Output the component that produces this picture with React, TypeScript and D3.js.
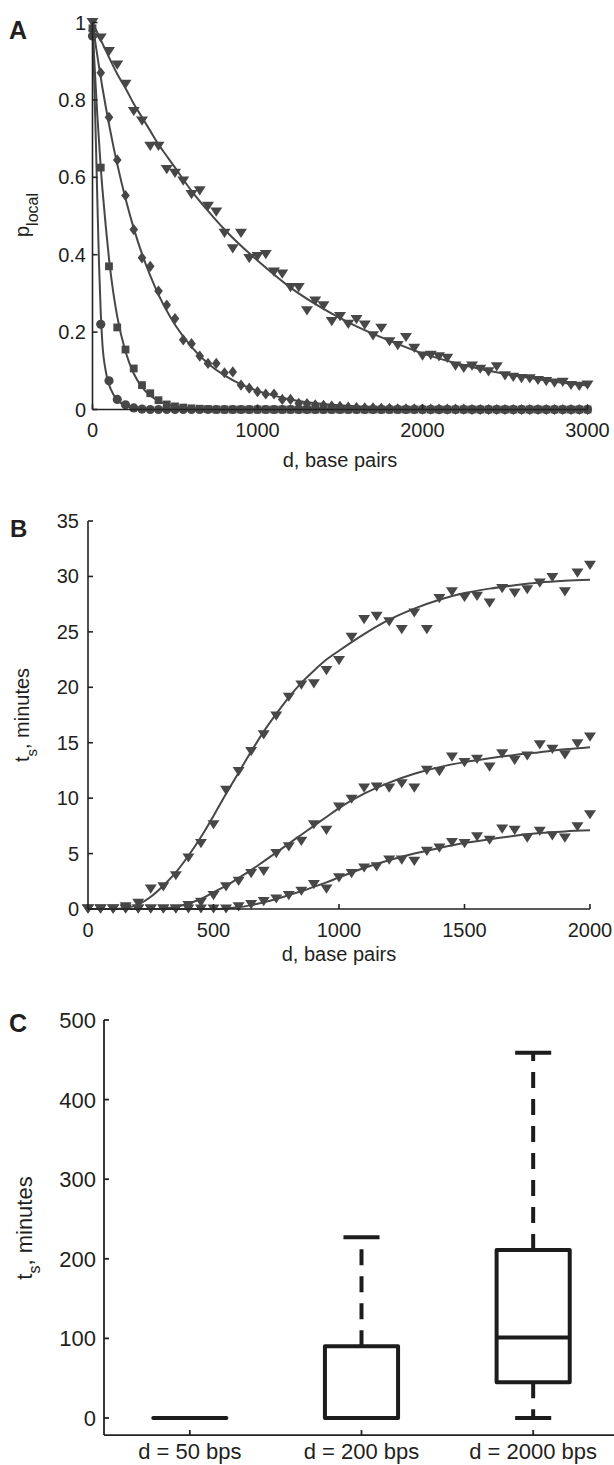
import React from 'react';
import * as d3 from 'd3';

// ---------- Panel A data ----------
const aDist = d3.range(0, 3001, 50);
const aTriangle = [1.0, 0.96, 0.925, 0.89, 0.84, 0.77, 0.745, 0.68, 0.68, 0.62, 0.61, 0.59, 0.555, 0.565, 0.525, 0.51, 0.455, 0.415, 0.455, 0.39, 0.395, 0.4, 0.355, 0.35, 0.315, 0.315, 0.255, 0.28, 0.268, 0.227, 0.24, 0.22, 0.232, 0.218, 0.19, 0.21, 0.175, 0.165, 0.186, 0.158, 0.138, 0.14, 0.136, 0.132, 0.112, 0.106, 0.112, 0.104, 0.097, 0.11, 0.087, 0.083, 0.08, 0.079, 0.075, 0.072, 0.068, 0.07, 0.062, 0.06, 0.063];
const aDiamond = [0.98, 0.87, 0.755, 0.645, 0.553, 0.465, 0.392, 0.37, 0.306, 0.27, 0.235, 0.18, 0.17, 0.138, 0.119, 0.119, 0.095, 0.097, 0.063, 0.055, 0.046, 0.04, 0.04, 0.026, 0.026, 0.016, 0.015, 0.012, 0.011, 0.009, 0.008, 0.006, 0.005, 0.004, 0.004, 0.003, 0.003, 0.002, 0.002, 0.002, 0.001, 0.001, 0.001, 0.001, 0.001, 0.001, 0, 0, 0, 0, 0, 0, 0, 0, 0, 0, 0, 0, 0, 0, 0];
const aSquare = [0.985, 0.625, 0.37, 0.212, 0.155, 0.106, 0.063, 0.042, 0.024, 0.013, 0.008, 0.005, 0.003, 0.002, 0.001, 0, 0, 0, 0, 0, 0, 0, 0, 0, 0, 0, 0, 0, 0, 0, 0, 0, 0, 0, 0, 0, 0, 0, 0, 0, 0, 0, 0, 0, 0, 0, 0, 0, 0, 0, 0, 0, 0, 0, 0, 0, 0, 0, 0, 0, 0];
const aCircle = [0.965, 0.22, 0.074, 0.026, 0.012, 0.004, 0.001, 0, 0, 0, 0, 0, 0, 0, 0, 0, 0, 0, 0, 0, 0, 0, 0, 0, 0, 0, 0, 0, 0, 0, 0, 0, 0, 0, 0, 0, 0, 0, 0, 0, 0, 0, 0, 0, 0, 0, 0, 0, 0, 0, 0, 0, 0, 0, 0, 0, 0, 0, 0, 0, 0];

const aFitDist = [0, 10, 20, 30, 40, 50, 60, 80, 100, 125, 150, 200, 250, 300, 350, 400, 450, 500, 600, 700, 800, 900, 1000, 1200, 1400, 1600, 1800, 2000, 2200, 2400, 2600, 2800, 3000];
const aFitTriangle = [1.0, 0.991, 0.982, 0.973, 0.964, 0.955, 0.946, 0.928, 0.91, 0.888, 0.867, 0.83, 0.79, 0.755, 0.72, 0.685, 0.655, 0.625, 0.565, 0.513, 0.465, 0.423, 0.385, 0.315, 0.26, 0.215, 0.178, 0.145, 0.12, 0.1, 0.085, 0.072, 0.062];
const aFitDiamond = [1.0, 0.97, 0.94, 0.912, 0.885, 0.858, 0.832, 0.783, 0.737, 0.683, 0.634, 0.545, 0.468, 0.402, 0.346, 0.297, 0.255, 0.219, 0.162, 0.119, 0.088, 0.065, 0.048, 0.026, 0.014, 0.008, 0.004, 0.002, 0.001, 0, 0, 0, 0];
const aFitSquare = [1.0, 0.91, 0.83, 0.755, 0.69, 0.625, 0.57, 0.475, 0.39, 0.305, 0.24, 0.15, 0.093, 0.058, 0.036, 0.022, 0.014, 0.009, 0.003, 0.001, 0, 0, 0, 0, 0, 0, 0, 0, 0, 0, 0, 0, 0];
const aFitCircle = [1.0, 0.86, 0.7, 0.53, 0.37, 0.25, 0.17, 0.1, 0.065, 0.04, 0.025, 0.01, 0.004, 0.001, 0, 0, 0, 0, 0, 0, 0, 0, 0, 0, 0, 0, 0, 0, 0, 0, 0, 0, 0];

const aXTicks = [0, 1000, 2000, 3000];
const aYTicks = [0, 0.2, 0.4, 0.6, 0.8, 1];
const aYTickLabels = ['0', '0.2', '0.4', '0.6', '0.8', '1'];

// ---------- Panel B data ----------
const bDist = d3.range(0, 2001, 50);
const bSeries1 = [0, 0, 0, 0.2, 0.5, 1.8, 2.0, 3.0, 4.6, 5.9, 7.6, 10.7, 12.4, 14.2, 15.7, 17.4, 19.1, 20.2, 20.3, 21.5, 22.4, 24.5, 26.1, 26.4, 25.9, 25.2, 26.7, 25.2, 28.0, 28.6, 28.1, 28.2, 27.6, 28.9, 28.5, 28.8, 29.4, 29.9, 28.6, 30.3, 31.0];
const bSeries2 = [0, 0, 0, 0, 0, 0, 0, 0, 0.3, 0.6, 1.2, 2.0, 2.5, 3.2, 3.4, 5.0, 5.6, 6.1, 7.6, 7.1, 9.2, 9.9, 10.9, 11.0, 10.9, 11.3, 10.9, 12.5, 12.4, 13.7, 13.2, 13.5, 12.8, 14.0, 13.4, 13.8, 14.8, 14.4, 13.9, 14.9, 15.5];
const bSeries3 = [0, 0, 0, 0, 0, 0, 0, 0, 0, 0, 0, 0, 0.2, 0.4, 0.66, 0.9, 1.2, 1.6, 2.2, 1.8, 2.8, 3.2, 3.7, 3.8, 4.4, 4.4, 4.3, 5.2, 5.5, 6.0, 5.9, 6.5, 6.2, 7.2, 7.1, 6.4, 7.0, 6.6, 6.4, 7.4, 8.5];

const bFitDist = [0, 100, 150, 200, 250, 300, 350, 400, 450, 500, 550, 600, 650, 700, 750, 800, 850, 900, 950, 1000, 1100, 1200, 1300, 1400, 1500, 1600, 1700, 1800, 1900, 2000];
const bFit1 = [0, 0, 0.1, 0.4, 1.1, 2.1, 3.3, 4.8, 6.5, 8.4, 10.4, 12.3, 14.2, 16.0, 17.6, 19.1, 20.4, 21.5, 22.5, 23.3, 24.8, 26.1, 27.1, 27.9, 28.5, 28.9, 29.2, 29.45, 29.6, 29.7];
const bFit2 = [0, 0, 0, 0, 0, 0.05, 0.2, 0.5, 0.9, 1.5, 2.1, 2.8, 3.5, 4.3, 5.1, 5.9, 6.7, 7.5, 8.3, 9.1, 10.4, 11.4, 12.2, 12.8, 13.25, 13.6, 13.9, 14.15, 14.4, 14.6];
const bFit3 = [0, 0, 0, 0, 0, 0, 0, 0, 0, 0, 0.05, 0.15, 0.35, 0.6, 0.9, 1.25, 1.6, 2.0, 2.4, 2.85, 3.7, 4.4, 5.0, 5.5, 5.95, 6.3, 6.6, 6.85, 7.0, 7.1];

const bXTicks = [0, 500, 1000, 1500, 2000];
const bYTicks = [0, 5, 10, 15, 20, 25, 30, 35];

// ---------- Panel C data ----------
const cCategories = ['d = 50 bps', 'd = 200 bps', 'd = 2000 bps'];
const cLowerWhisker = [0, 0, 0];
const cQ1 = [0, 0, 45];
const cMedian = [0, 0, 101];
const cQ3 = [0, 90, 211];
const cUpperWhisker = [0, 227, 459];
const cYTicks = [0, 100, 200, 300, 400, 500];

// ---------- styles ----------
const FONT = '"Liberation Sans", Arial, Helvetica, sans-serif';
const INK = '#231f20';
const MARK = '#474747';
const AXIS = '#222';
const BOX = '#1c1c1c';

const triPath = 'M-6,-4.6L6,-4.6L0,4.6Z';
const diaPath = 'M0,-5.6L4.3,0L0,5.6L-4.3,0Z';
const sqPath = 'M-3.9,-3.9h7.8v7.8h-7.8Z';

export default function App() {
  // Panel A scales
  const xA = d3.scaleLinear().domain([0, 3000]).range([92.5, 587.5]);
  const yA = d3.scaleLinear().domain([0, 1]).range([409.5, 22.5]);
  // Panel B scales
  const xB = d3.scaleLinear().domain([0, 2000]).range([88, 590]);
  const yB = d3.scaleLinear().domain([0, 35]).range([909, 521]);
  // Panel C scales
  const xC = d3.scaleLinear().domain([0.5, 3.5]).range([104, 619]);
  const yC = d3.scaleLinear().domain([0, 500]).range([1418, 1020]);
  const cBottom = yC(-21.4);

  const lineA = d3.line<number>().curve(d3.curveMonotoneX);
  const mkLineA = (ys: number[]) =>
    lineA.x((_, i) => xA(aFitDist[i])).y((v) => yA(v))(ys) || '';
  const lineB = d3.line<number>().curve(d3.curveMonotoneX);
  const mkLineB = (ys: number[]) =>
    lineB.x((_, i) => xB(bFitDist[i])).y((v) => yB(v))(ys) || '';

  const markersA = (vals: number[], path: string | null, key: string) =>
    vals.map((v, i) =>
      path ? (
        <path key={key + i} d={path} transform={`translate(${xA(aDist[i])},${yA(v)})`} fill={MARK} />
      ) : (
        <circle key={key + i} cx={xA(aDist[i])} cy={yA(v)} r={4.6} fill={MARK} />
      )
    );
  const markersB = (vals: number[], key: string) =>
    vals.map((v, i) => (
      <path key={key + i} d={triPath} transform={`translate(${xB(bDist[i])},${yB(v)})`} fill={MARK} />
    ));

  const boxHalf = 0.213;
  const capHalf = 0.105;

  return (
    <svg
      width={614}
      height={1465}
      style={{ position: 'absolute', left: 0, top: 0, display: 'block', background: '#fff' }}
      fontFamily={FONT}
    >
      <rect x={0} y={0} width={614} height={1465} fill="#fff" />

      {/* ================= Panel A ================= */}
      <text x={9} y={39} fontSize={25} fontWeight="bold" fill={INK}>A</text>
      <g fill="none" stroke={MARK} strokeWidth={2}>
        <path d={mkLineA(aFitTriangle)} />
        <path d={mkLineA(aFitDiamond)} />
        <path d={mkLineA(aFitSquare)} />
        <path d={mkLineA(aFitCircle)} />
      </g>
      {markersA(aTriangle, triPath, 't')}
      {markersA(aDiamond, diaPath, 'd')}
      {markersA(aSquare, sqPath, 's')}
      {markersA(aCircle, null, 'c')}
      <g stroke={AXIS} strokeWidth={1.6} fill="none">
        <line x1={xA(0)} x2={xA(0)} y1={yA(0)} y2={yA(1)} />
        <line x1={xA(0)} x2={xA(3000)} y1={yA(0)} y2={yA(0)} />
        {aYTicks.map((t) => (
          <line key={'ayt' + t} x1={xA(0)} x2={xA(0) + 5} y1={yA(t)} y2={yA(t)} />
        ))}
        {aXTicks.map((t) => (
          <line key={'axt' + t} x1={xA(t)} x2={xA(t)} y1={yA(0)} y2={yA(0) - 5} />
        ))}
      </g>
      <g fontSize={20} fill={INK}>
        {aYTicks.map((t, i) => (
          <text key={'ayl' + t} x={86} y={yA(t) + 7} textAnchor="end">{aYTickLabels[i]}</text>
        ))}
        {aXTicks.map((t) => (
          <text key={'axl' + t} x={xA(t)} y={437} textAnchor="middle">{t}</text>
        ))}
        <text x={(xA(0) + xA(3000)) / 2} y={467} textAnchor="middle">d, base pairs</text>
        <text transform="translate(29,215) rotate(-90)" textAnchor="middle">
          <tspan fontSize={20}>p</tspan>
          <tspan fontSize={16} dy={9}>local</tspan>
        </text>
      </g>

      {/* ================= Panel B ================= */}
      <text x={10} y={537} fontSize={24} fontWeight="bold" fill={INK}>B</text>
      <g fill="none" stroke={MARK} strokeWidth={2}>
        <path d={mkLineB(bFit1)} />
        <path d={mkLineB(bFit2)} />
        <path d={mkLineB(bFit3)} />
      </g>
      {markersB(bSeries3, 'b3')}
      {markersB(bSeries2, 'b2')}
      {markersB(bSeries1, 'b1')}
      <g stroke={AXIS} strokeWidth={1.6} fill="none">
        <line x1={xB(0)} x2={xB(0)} y1={yB(0)} y2={yB(35)} />
        <line x1={xB(0)} x2={xB(2000)} y1={yB(0)} y2={yB(0)} />
        {bYTicks.map((t) => (
          <line key={'byt' + t} x1={xB(0)} x2={xB(0) + 5} y1={yB(t)} y2={yB(t)} />
        ))}
        {bXTicks.map((t) => (
          <line key={'bxt' + t} x1={xB(t)} x2={xB(t)} y1={yB(0)} y2={yB(0) - 5} />
        ))}
      </g>
      <g fontSize={20} fill={INK}>
        {bYTicks.map((t) => (
          <text key={'byl' + t} x={79} y={yB(t) + 7} textAnchor="end">{t}</text>
        ))}
        {bXTicks.map((t) => (
          <text key={'bxl' + t} x={xB(t)} y={937} textAnchor="middle">{t}</text>
        ))}
        <text x={(xB(0) + xB(2000)) / 2} y={961} textAnchor="middle">d, base pairs</text>
        <text transform="translate(29,715) rotate(-90)" textAnchor="middle">
          <tspan fontSize={20}>t</tspan>
          <tspan fontSize={15} dy={8}>s</tspan>
          <tspan fontSize={20} dy={-8}>, minutes</tspan>
        </text>
      </g>

      {/* ================= Panel C ================= */}
      <text x={9} y={1032} fontSize={25} fontWeight="bold" fill={INK}>C</text>
      <g stroke={BOX} strokeWidth={4} fill="none" strokeLinejoin="round">
        {cCategories.map((c, i) => {
          const cx = i + 1;
          return (
            <g key={'box' + i}>
              {cUpperWhisker[i] > cQ3[i] && (
                <line x1={xC(cx)} x2={xC(cx)} y1={yC(cQ3[i])} y2={yC(cUpperWhisker[i])} strokeDasharray="16 11" />
              )}
              {cLowerWhisker[i] < cQ1[i] && (
                <line x1={xC(cx)} x2={xC(cx)} y1={yC(cQ1[i])} y2={yC(cLowerWhisker[i])} strokeDasharray="16 11" />
              )}
              <line x1={xC(cx - capHalf)} x2={xC(cx + capHalf)} y1={yC(cUpperWhisker[i])} y2={yC(cUpperWhisker[i])} />
              <line x1={xC(cx - capHalf)} x2={xC(cx + capHalf)} y1={yC(cLowerWhisker[i])} y2={yC(cLowerWhisker[i])} />
              <rect
                x={xC(cx - boxHalf)}
                y={yC(cQ3[i])}
                width={xC(cx + boxHalf) - xC(cx - boxHalf)}
                height={Math.max(0.01, yC(cQ1[i]) - yC(cQ3[i]))}
              />
              <line x1={xC(cx - boxHalf)} x2={xC(cx + boxHalf)} y1={yC(cMedian[i])} y2={yC(cMedian[i])} />
            </g>
          );
        })}
      </g>
      <g stroke={AXIS} strokeWidth={1.8} fill="none">
        <line x1={xC(0.5)} x2={xC(0.5)} y1={cBottom} y2={yC(500)} />
        <line x1={xC(0.5)} x2={xC(3.5)} y1={cBottom} y2={cBottom} />
        {cYTicks.map((t) => (
          <line key={'cyt' + t} x1={xC(0.5)} x2={xC(0.5) + 5} y1={yC(t)} y2={yC(t)} />
        ))}
        {cCategories.map((c, i) => (
          <line key={'cxt' + i} x1={xC(i + 1)} x2={xC(i + 1)} y1={cBottom} y2={cBottom - 5} />
        ))}
      </g>
      <g fontSize={22} fill={INK}>
        {cYTicks.map((t) => (
          <text key={'cyl' + t} x={96} y={yC(t) + 8} textAnchor="end">{t}</text>
        ))}
        {cCategories.map((c, i) => (
          <text key={'cxl' + i} x={xC(i + 1)} y={1459} textAnchor="middle">{c}</text>
        ))}
        <text transform="translate(32,1228) rotate(-90)" textAnchor="middle">
          <tspan fontSize={22}>t</tspan>
          <tspan fontSize={16} dy={8}>s</tspan>
          <tspan fontSize={22} dy={-8}>, minutes</tspan>
        </text>
      </g>
    </svg>
  );
}
